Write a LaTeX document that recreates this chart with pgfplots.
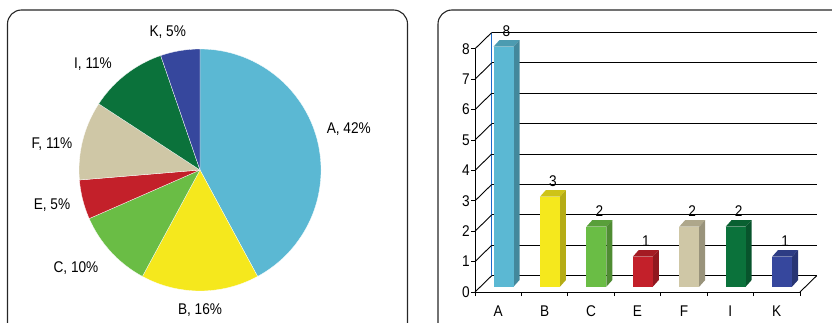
\documentclass[border=0pt]{standalone}
\usepackage{fontspec}
\setmainfont{Liberation Sans}[FakeStretch=0.88]
\usepackage{pgfplots}
\pgfplotsset{compat=1.18}
\pgfplotsset{/pgf/number format/assume math mode=true}
\definecolor{cA}{HTML}{5BB8D3}
\definecolor{cB}{HTML}{F5E81D}
\definecolor{cC}{HTML}{6ABD45}
\definecolor{cE}{HTML}{C3202A}
\definecolor{cF}{HTML}{CFC7A6}
\definecolor{cI}{HTML}{0B723B}
\definecolor{cK}{HTML}{36479D}
\definecolor{wallblue}{HTML}{1E6AC8}
\newcommand\barfaces[3]{%
 \fill[#3!84!black] ([xshift=-10pt]axis cs:#1,#2) -- ++(6pt,6.7pt) -- ++(20pt,0pt) -- ++(-6pt,-6.7pt) -- cycle;
 \fill[#3!74!black] ([xshift=10pt]axis cs:#1,#2) -- ++(6pt,6.7pt) -- ([xshift=16pt,yshift=6.7pt]axis cs:#1,0) -- ([xshift=10pt]axis cs:#1,0) -- cycle;
}
% pie values: A 8, B 3, C 2, E 1, F 2, I 2, K 1 (total 19)
\pgfmathsetmacro\aA{90}
\pgfmathsetmacro\aB{\aA-8*360/19}
\pgfmathsetmacro\aC{\aB-3*360/19}
\pgfmathsetmacro\aE{\aC-2*360/19}
\pgfmathsetmacro\aF{\aE-1*360/19}
\pgfmathsetmacro\aI{\aF-2*360/19}
\pgfmathsetmacro\aK{\aI-2*360/19}
\pgfmathsetmacro\aZ{\aK-1*360/19}
\begin{document}%
\fontsize{15.5}{18}\selectfont%
\begin{tikzpicture}[font=\fontsize{15.5}{18}\selectfont]
\useasboundingbox (0pt,0pt) rectangle (832pt,322pt);
\clip (0pt,0pt) rectangle (832pt,322pt);
\draw[line width=1.1pt, black!85, rounded corners=14pt] (7.5pt,-30pt) rectangle (407.5pt,312pt);
\draw[line width=1.1pt, black!85, rounded corners=14pt] (438pt,-30pt) rectangle (846pt,312pt);
% ---------- pie ----------
\begin{axis}[at={(200pt,152pt)}, anchor=center, x=1pt, y=1pt,
  xmin=-200, xmax=200, ymin=-150, ymax=150, hide axis, clip=false]
\fill[cA, draw=white, line width=0.3pt] (axis cs:0,0) -- ++(\aA:121pt) arc[start angle=\aA, end angle=\aB, radius=121pt] -- cycle;
\fill[cB, draw=white, line width=0.3pt] (axis cs:0,0) -- ++(\aB:121pt) arc[start angle=\aB, end angle=\aC, radius=121pt] -- cycle;
\fill[cC, draw=white, line width=0.3pt] (axis cs:0,0) -- ++(\aC:121pt) arc[start angle=\aC, end angle=\aE, radius=121pt] -- cycle;
\fill[cE, draw=white, line width=0.3pt] (axis cs:0,0) -- ++(\aE:121pt) arc[start angle=\aE, end angle=\aF, radius=121pt] -- cycle;
\fill[cF, draw=white, line width=0.3pt] (axis cs:0,0) -- ++(\aF:121pt) arc[start angle=\aF, end angle=\aI, radius=121pt] -- cycle;
\fill[cI, draw=white, line width=0.3pt] (axis cs:0,0) -- ++(\aI:121pt) arc[start angle=\aI, end angle=\aK, radius=121pt] -- cycle;
\fill[cK, draw=white, line width=0.3pt] (axis cs:0,0) -- ++(\aK:121pt) arc[start angle=\aK, end angle=\aZ, radius=121pt] -- cycle;
\node[anchor=base] at (axis cs:148.8,36.7) {A, 42\%};
\node[anchor=base] at (axis cs:0,-144) {B, 16\%};
\node[anchor=base] at (axis cs:-124,-102.5) {C, 10\%};
\node[anchor=base] at (axis cs:-148,-39.5) {E, 5\%};
\node[anchor=base] at (axis cs:-148,21.5) {F, 11\%};
\node[anchor=base] at (axis cs:-107,101.5) {I, 11\%};
\node[anchor=base] at (axis cs:-32.3,133.8) {K, 5\%};
\end{axis}
% ---------- back wall ----------
\begin{axis}[at={(491.7pt,46.3pt)}, anchor=south west, scale only axis,
  width=325pt, height=243.2pt, xmin=0, xmax=7, ymin=0, ymax=8,
  xtick=\empty, ytick={0,...,8}, yticklabels={}, ymajorgrids,
  grid style={black, line width=0.9pt}, axis line style={draw=none},
  major tick length=0pt, clip=false]
\draw[wallblue, line width=0.9pt] (axis cs:0,0) -- (axis cs:0,8);
\end{axis}
% ---------- front axis ----------
\begin{axis}[at={(475pt,30pt)}, anchor=south west, scale only axis,
  width=325pt, height=243.2pt, xmin=0, xmax=7, ymin=0, ymax=8,
  axis lines*=left, axis line style={black, line width=0.9pt},
  ytick={0,...,8}, xtick={0,...,7}, xticklabels={},
  tick align=outside, major tick length=4pt,
  tick style={black, line width=0.9pt},
  yticklabel style={anchor=east, inner sep=0pt, xshift=-1pt},
  clip=false]
\pgfplotsinvokeforeach{0,...,8}{\draw[black, line width=0.9pt] (axis cs:0,#1) -- ++(16.7pt,16.3pt);}
\draw[black, line width=0.9pt] (axis cs:7,0) -- ++(16.7pt,16.3pt);
\node[anchor=base] at (axis cs:0.5,0) [yshift=-24pt] {A};
\node[anchor=base] at (axis cs:1.5,0) [yshift=-24pt] {B};
\node[anchor=base] at (axis cs:2.5,0) [yshift=-24pt] {C};
\node[anchor=base] at (axis cs:3.5,0) [yshift=-24pt] {E};
\node[anchor=base] at (axis cs:4.5,0) [yshift=-24pt] {F};
\node[anchor=base] at (axis cs:5.5,0) [yshift=-24pt] {I};
\node[anchor=base] at (axis cs:6.5,0) [yshift=-24pt] {K};
\end{axis}
% ---------- bars ----------
\begin{axis}[at={(480.3pt,35.3pt)}, anchor=south west, scale only axis,
  width=325pt, height=240pt, xmin=0, xmax=7, ymin=0, ymax=8,
  hide axis, clip=false,
  nodes near coords,
  every node near coord/.style={anchor=base, yshift=10.5pt, xshift=3pt, black, inner sep=0pt}]
\barfaces{0.5}{8}{cA}
\barfaces{1.5}{3}{cB}
\barfaces{2.5}{2}{cC}
\barfaces{3.5}{1}{cE}
\barfaces{4.5}{2}{cF}
\barfaces{5.5}{2}{cI}
\barfaces{6.5}{1}{cK}
\addplot[ybar, bar shift=0pt, bar width=20pt, fill=cA, draw=none] coordinates {(0.5,8)};
\addplot[ybar, bar shift=0pt, bar width=20pt, fill=cB, draw=none] coordinates {(1.5,3)};
\addplot[ybar, bar shift=0pt, bar width=20pt, fill=cC, draw=none] coordinates {(2.5,2)};
\addplot[ybar, bar shift=0pt, bar width=20pt, fill=cE, draw=none] coordinates {(3.5,1)};
\addplot[ybar, bar shift=0pt, bar width=20pt, fill=cF, draw=none] coordinates {(4.5,2)};
\addplot[ybar, bar shift=0pt, bar width=20pt, fill=cI, draw=none] coordinates {(5.5,2)};
\addplot[ybar, bar shift=0pt, bar width=20pt, fill=cK, draw=none] coordinates {(6.5,1)};
\end{axis}
\end{tikzpicture}%
\end{document}
